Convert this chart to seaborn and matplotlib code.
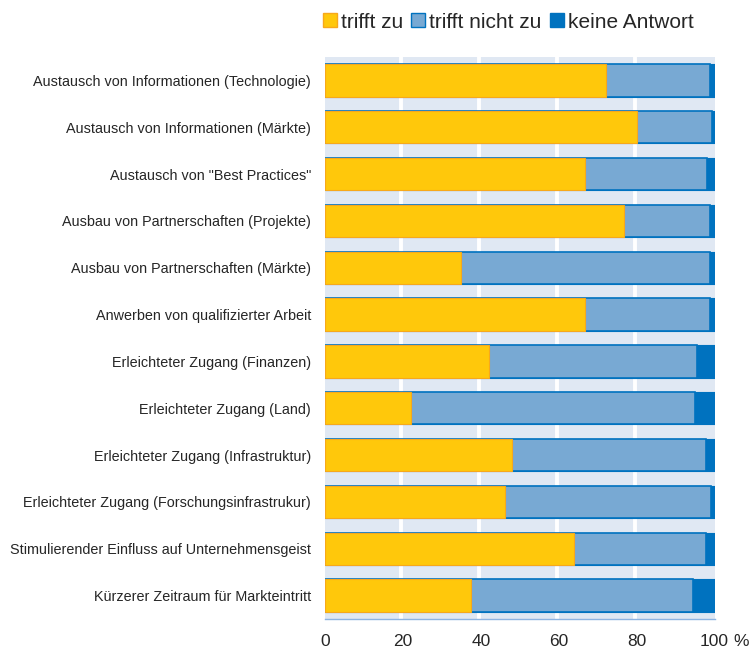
import matplotlib
matplotlib.use("Agg")
import matplotlib.pyplot as plt
import seaborn as sns
import pandas as pd
import numpy as np
from matplotlib.patches import Patch

categories = [
    "Austausch von Informationen (Technologie)",
    "Austausch von Informationen (Märkte)",
    'Austausch von "Best Practices"',
    "Ausbau von Partnerschaften (Projekte)",
    "Ausbau von Partnerschaften (Märkte)",
    "Anwerben von qualifizierter Arbeit",
    "Erleichteter Zugang (Finanzen)",
    "Erleichteter Zugang (Land)",
    "Erleichteter Zugang (Infrastruktur)",
    "Erleichteter Zugang (Forschungsinfrastrukur)",
    "Stimulierender Einfluss auf Unternehmensgeist",
    "Kürzerer Zeitraum für Markteintritt",
]
trifft_zu = [72.2, 80.2, 66.8, 76.8, 34.9, 66.8, 42.1, 22.2, 48.0, 46.2, 63.8, 37.4]
trifft_nicht_zu = [26.6, 19.2, 31.3, 22.0, 63.9, 32.0, 53.5, 72.7, 49.7, 52.8, 33.9, 57.0]
keine_antwort = [1.2, 0.6, 1.9, 1.2, 1.2, 1.2, 4.4, 5.1, 2.3, 1.0, 2.3, 5.6]
series_names = ["trifft zu", "trifft nicht zu", "keine Antwort"]
x_ticks = [0, 20, 40, 60, 80, 100]

sns.set_theme(style="white")
plt.rcParams["font.family"] = ["Liberation Sans", "DejaVu Sans"]

df = pd.DataFrame({
    "cat": categories,
    "zu": trifft_zu,
    "nicht": trifft_nicht_zu,
    "keine": keine_antwort,
})
df["cum_nicht"] = df["zu"] + df["nicht"]
df["cum_all"] = df["cum_nicht"] + df["keine"]

c_yellow = "#ffc80b"
c_yellow_edge = "#f7a81b"
c_light = "#78a9d3"
c_dark = "#0072bf"
bg = "#e0e8f3"
txt = "#262626"

fig = plt.figure(figsize=(7.53, 6.55), dpi=100)
ax = fig.add_axes([325 / 753, 1 - 619 / 655, (714.5 - 325) / 753, (619 - 57) / 655])
ax.set_facecolor(bg)

w = 0.69
sns.barplot(data=df, y="cat", x="cum_all", orient="h", color=c_dark, width=w,
            edgecolor=c_dark, linewidth=0.8, saturation=1, ax=ax, zorder=3)
sns.barplot(data=df, y="cat", x="cum_nicht", orient="h", color=c_light, width=w,
            edgecolor=c_dark, linewidth=1.2, saturation=1, ax=ax, zorder=4)
sns.barplot(data=df, y="cat", x="zu", orient="h", color=c_yellow, width=w,
            edgecolor=c_yellow_edge, linewidth=0.8, saturation=1, ax=ax, zorder=5)

for xv in x_ticks[1:-1]:
    ax.axvline(xv - 0.5, color="white", lw=2.8, zorder=1)

ax.set_xlim(0, 100)
ax.set_ylim(11.5, -0.5)
ax.set_xlabel("")
ax.set_ylabel("")
ax.set_xticks(x_ticks)
ax.set_xticklabels([str(v) for v in x_ticks], fontsize=12.5, color=txt)
ax.tick_params(axis="x", direction="out", length=5, width=1, color="#8db4e2", pad=6)
ax.tick_params(axis="y", length=0, pad=10, labelsize=10.4, labelcolor=txt)
for s in ["top", "right", "left"]:
    ax.spines[s].set_visible(False)
ax.spines["bottom"].set_color("#8db4e2")
ax.spines["bottom"].set_linewidth(1)

fig.text(741 / 753, 1 - 642 / 655, "%", fontsize=12.5, color=txt, ha="center", va="center")

handles = [
    Patch(facecolor=c_yellow, edgecolor=c_yellow_edge, lw=1),
    Patch(facecolor=c_light, edgecolor=c_dark, lw=1),
    Patch(facecolor=c_dark, edgecolor=c_dark, lw=1),
]
fig.legend(handles, series_names, loc="center left", bbox_to_anchor=(323 / 753, 1 - 22 / 655),
           ncol=3, frameon=False, fontsize=15, handlelength=0.67, handleheight=0.67,
           handletextpad=0.2, columnspacing=0.38, borderpad=0, borderaxespad=0,
           labelcolor=txt)

fig.savefig("out.png", dpi=100)
